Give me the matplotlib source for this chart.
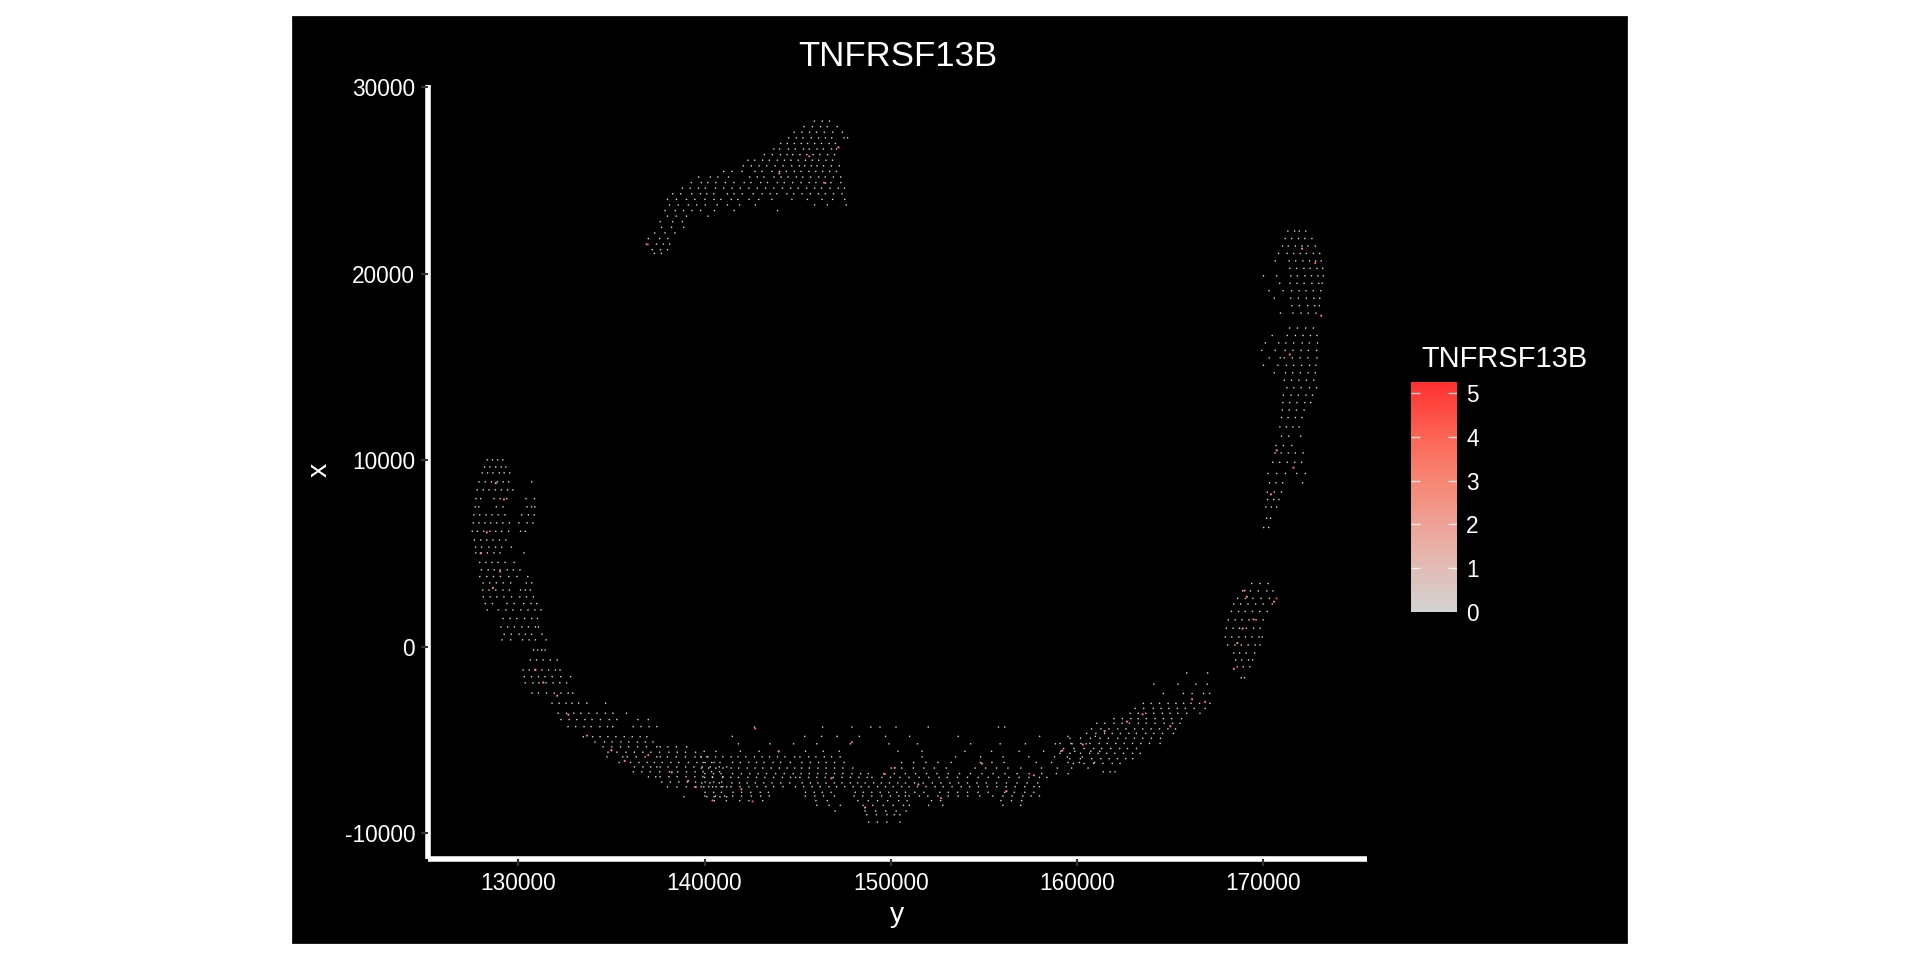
import numpy as np
import matplotlib.pyplot as plt
from matplotlib.colors import LinearSegmentedColormap
from matplotlib.patches import Rectangle

plt.rcParams['font.family'] = ['Liberation Sans', 'DejaVu Sans']
plt.rcParams['axes.unicode_minus'] = False

gene = 'TNFRSF13B'
y_ticks = [130000, 140000, 150000, 160000, 170000]
x_ticks = [-10000, 0, 10000, 20000, 30000]
bar_ticks = [0, 1, 2, 3, 4, 5]
bar_max = 5.25
bar_colors = ['#D3D3D3', '#E2BDB6', '#EFA297', '#F78674', '#FD6555', '#FF3030']
bar_stops = [0, 1 / 5.25, 2 / 5.25, 3 / 5.25, 4 / 5.25, 1]

# spots, by bands: (x, [y, y, ...])
top_rows = [
    (28200, [145900, 146320, 146710]),
    (27900, [145340, 145790, 146230, 146580, 147120]),
    (27600, [144810, 145230, 145640, 146010, 146430, 146880, 147400]),
    (27300, [144520, 144930, 145280, 145730, 146120, 146490, 146830, 147490, 147680]),
    (27000, [144090, 144440, 144820, 145190, 145530, 145910, 146280, 146690, 147030]),
    (26700, [143720, 144030, 144510, 144870, 145310, 145620, 146040, 146380, 146820, 147090]),
    (26400, [143210, 143640, 144080, 144430, 144730, 145120, 145490, 145830, 146190, 146610, 146980]),
    (26100, [142330, 142690, 143120, 143480, 143910, 144290, 144640, 145030, 145420, 145780, 146130, 146520, 146870]),
    (25800, [142080, 142510, 142930, 143340, 143790, 144220, 144680, 145090, 145380, 145730, 146040, 146390, 146810, 147230]),
    (25500, [141030, 141470, 142020, 142710, 143080, 143620, 144030, 144390, 144820, 145180, 145610, 145970, 146340, 146720, 147080]),
    (25200, [139680, 140310, 140720, 141290, 142420, 142830, 143190, 143730, 144110, 144480, 144930, 145270, 145690, 146130, 146480, 146920, 147310]),
    (24900, [139290, 139830, 140180, 140610, 141120, 141580, 142130, 142490, 143020, 143380, 143910, 144280, 144730, 145180, 145620, 145980, 146410, 146790, 147320]),
    (24600, [138810, 139230, 139680, 140040, 140590, 141030, 141480, 141920, 142380, 142830, 143280, 143720, 144180, 144620, 145030, 145480, 145910, 146280, 146730, 147180, 147510]),
    (24300, [138290, 138720, 139310, 139780, 140120, 140490, 141230, 141580, 142030, 142610, 143090, 143520, 143880, 144420, 144790, 145230, 145680, 146120, 146490, 146930, 147380]),
    (24000, [138010, 138490, 139030, 139480, 140020, 140510, 140880, 141430, 141790, 142390, 142910, 143620, 144690, 145520, 146310, 146880, 147530]),
    (23700, [138120, 138590, 139130, 139580, 140040, 140680, 141230, 141880, 142730, 145910, 146590, 147610]),
    (23400, [137880, 138430, 138870, 139320, 139790, 140530, 141590, 143920]),
    (23100, [138010, 138480, 139030, 140190]),
    (22800, [137620, 138290, 138810]),
    (22500, [137690, 138230, 138880]),
    (22200, [137320, 137880, 138410]),
    (21900, [136980, 137590, 138030]),
    (21600, [136880, 137420, 137790, 138130]),
    (21300, [137190, 137630, 138010]),
    (21100, [137310, 137680]),
]
right_rows = [
    (22300, [171320, 171680, 171930, 172280]),
    (21900, [171180, 171520, 171890, 172230, 172610]),
    (21500, [171030, 171340, 171720, 172080, 172390, 172790]),
    (21100, [170820, 171280, 171630, 171980, 172310, 172690, 173030]),
    (20700, [170640, 171390, 171740, 172130, 172480, 172810, 173110]),
    (20300, [171420, 171790, 172180, 172520, 172880, 173190]),
    (19900, [170010, 170720, 171480, 171830, 172240, 172590, 172930, 173220]),
    (19500, [170880, 171430, 171810, 172190, 172610, 172980, 173160]),
    (19100, [170310, 171060, 171520, 171920, 172290, 172680, 173090]),
    (18700, [170590, 171470, 171880, 172310, 172720, 173030]),
    (18300, [171530, 171940, 172380, 172760, 173010]),
    (17900, [170920, 171590, 172030, 172410, 172830]),
    (17100, [171410, 171830, 172280, 172690]),
    (16700, [170480, 171290, 171720, 172140, 172530, 172880]),
    (16300, [170110, 170830, 171210, 171630, 172090, 172470, 172910]),
    (15900, [169920, 170640, 171180, 171590, 172030, 172420, 172860]),
    (15500, [170320, 170910, 171120, 171560, 171980, 172390, 172880]),
    (15100, [170010, 170780, 171240, 171630, 172060, 172480, 172820]),
    (14700, [170590, 171190, 171580, 171990, 172410, 172790]),
    (14300, [171130, 171520, 171910, 172320, 172710]),
    (13900, [171270, 171640, 172030, 172480, 172860]),
    (13500, [171080, 171490, 171880, 172290, 172640]),
    (13100, [171050, 171420, 171810, 172230, 172540]),
    (12700, [171020, 171390, 171780, 172190]),
    (12300, [170980, 171330, 171720, 172080]),
    (11800, [170890, 171240, 171590, 171920]),
    (11300, [170980, 171360, 172010]),
    (10800, [170690, 171080, 171530]),
    (10400, [170630, 170960, 171340, 171720, 172140]),
    (9900, [170510, 170880, 171290, 171680, 172050]),
    (9300, [170250, 170720, 171190, 171790, 172260]),
    (8800, [170330, 170680, 171040, 172110]),
    (8300, [170210, 170590, 170980]),
    (7900, [170230, 170560, 170840]),
    (7500, [170140, 170430, 170720]),
    (6900, [170180, 170390]),
    (6400, [170020, 170290]),
]
knob_rows = [
    (3400, [169380, 169820, 170260]),
    (3000, [168890, 169310, 169730, 170190, 170520]),
    (2600, [168620, 169040, 169440, 169880, 170330]),
    (2300, [168410, 168790, 169180, 169590, 169990, 170480]),
    (1900, [168290, 168670, 169030, 169420, 169810, 170210]),
    (1450, [168120, 168490, 168860, 169230, 169610, 169990]),
    (1000, [168010, 168380, 168720, 169090, 169480, 169830]),
    (530, [167960, 168310, 168690, 169040, 169390, 169780, 169940]),
    (100, [168090, 168480, 168820, 169190, 169560, 169820]),
    (-330, [168410, 168730, 169080, 169540]),
    (-700, [168520, 168840, 169210, 169430]),
    (-1070, [168610, 168920, 169280]),
    (-1660, [168810, 168990]),
]
left_rows = [
    (10030, [128330, 128610, 128890, 129170]),
    (9650, [128190, 128480, 128790, 129080, 129330]),
    (9330, [128060, 128350, 128640, 128980, 129240, 129540]),
    (8850, [127890, 128230, 128560, 128870, 129190, 129480, 130720]),
    (8420, [127790, 128120, 128430, 128770, 129090, 129420, 129710]),
    (7950, [127730, 127980, 128690, 129030, 129380, 130410, 130870]),
    (7510, [127690, 127880, 128820, 129180, 130470, 130710, 130890]),
    (7080, [127610, 127930, 128270, 128590, 128920, 129280, 130180, 130540, 130860]),
    (6650, [127590, 127890, 128210, 128520, 128840, 129170, 129520, 130030, 130480, 130790]),
    (6200, [127530, 127810, 128140, 128480, 128790, 129110, 129480, 130120, 130380]),
    (5730, [127640, 127980, 128310, 128640, 128990, 129330]),
    (5350, [127710, 128030, 128420, 128780, 129110, 129630]),
    (5040, [127720, 128010, 128340, 128690, 129020, 130310]),
    (4530, [127930, 128260, 128590, 128910, 129290, 129780]),
    (4130, [128020, 128380, 128710, 129030, 129410, 129730, 130090]),
    (3770, [127930, 128310, 128670, 129040, 129490, 129930, 130510]),
    (3430, [128110, 128470, 128820, 129190, 129590, 130430, 130720]),
    (3050, [128090, 128430, 128790, 129180, 129520, 130120, 130380, 130640]),
    (2680, [128120, 128490, 128850, 129230, 129640, 130080, 130440, 130810]),
    (2320, [128230, 128610, 129390, 129780, 130290, 130680, 130990]),
    (1980, [128330, 128920, 129330, 129710, 130140, 130520, 130890, 131220]),
    (1520, [129180, 129560, 129920, 130340, 130720, 131030]),
    (1070, [129070, 129430, 129790, 130190, 130540, 130920, 131080]),
    (680, [129240, 129620, 130040, 130380, 130710, 131280]),
    (375, [129130, 129590, 130230, 130580, 130920, 131490]),
    (-170, [130820, 131040, 131260, 131440]),
    (-700, [130640, 130980, 131330, 131720, 132090]),
    (-1240, [130260, 130590, 130910, 131270, 131630, 131990, 132240]),
    (-1600, [130320, 130710, 131080, 131430, 131820, 132280, 132810]),
    (-1930, [130370, 130790, 131110, 131490, 131870, 132230, 132590]),
    (-2480, [130730, 131080, 131520, 131930, 132290, 132680, 132920]),
    (-3020, [131810, 132190, 132560, 132880, 133240, 133680, 134690]),
    (-3560, [132140, 132590, 132980, 133360, 133790, 134230, 134680, 135080, 135810]),
    (-3900, [132290, 132730, 133140, 133580, 133960, 134410, 134890, 135290, 136420, 136980]),
    (-4280, [132670, 133080, 133530, 133910, 134380, 134790, 135070, 136170, 136590, 137020, 137440]),
    (-4820, [133490, 133990, 134390, 134810, 135240, 135690, 136120, 136540, 136900]),
    (-5100, [134120, 134630, 135040, 135510, 135930, 136390, 136820, 137230]),
    (-5360, [134550, 135020, 135490, 135920, 136410, 136880, 137440, 137620, 138030, 138490, 139040]),
    (-5650, [134820, 135290, 135780, 136230, 136690, 137120, 137590, 138090, 138530, 138980, 139520]),
    (-5900, [134760, 135610, 135850, 136330, 136810, 137440, 137620, 138010, 138480, 138970, 139490, 139820, 140120]),
    (-6200, [135410, 136030, 136480, 136920, 137310, 137730, 138190, 138620, 139130, 139590, 140030, 140510]),
    (-6440, [136230, 136690, 137110, 137440, 137620, 138040, 138510, 138990, 139430, 139880, 140310, 140790, 141190]),
    (-6700, [136180, 136630, 137080, 137590, 138120, 138560, 139030, 139490, 139920, 140380, 140810]),
    (-6970, [136990, 137380, 137610, 138090, 138530, 139010, 139480, 139910, 140420, 140990]),
    (-7250, [137710, 138170, 138620, 139070, 139520, 140030, 140490, 140920]),
    (-7510, [138010, 138520, 139020, 139480, 139960, 140430, 140890, 141190]),
    (-8040, [138890, 140130, 140510, 140830, 141190]),
]
arc_rows = [
    (-4300, [142680, 146340, 147910, 148930, 149420, 150280, 152010, 155780, 156120]),
    (-4800, [141490, 145380, 146290, 147120, 148310, 149720, 151010, 153620, 157990, 159510, 160980]),
    (-5200, [141820, 143510, 144780, 146030, 147830, 149900, 151430, 154290, 155870, 157230, 158840, 159730, 160490]),
    (-5600, [139980, 140610, 141920, 142930, 143980, 145420, 146380, 147230, 150390, 151680, 153980, 155410, 156890, 158210, 159130, 159880, 160740, 161220]),
    (-5900, [139810, 140180, 140590, 140980, 141430, 141790, 142210, 142680, 143090, 143490, 143920, 144320, 144830, 145120, 145590, 145980, 146430, 146820, 147280, 151680, 153480, 154820, 156030, 157410, 158790, 159480, 160280]),
    (-6200, [139920, 140390, 140830, 141510, 141920, 142380, 142790, 143190, 143680, 144090, 144610, 145230, 145680, 146120, 146530, 146980, 147490, 150580, 151230, 151890, 152530, 153240, 154810, 155430, 156090, 157810, 158630, 159520, 160130, 160940]),
    (-6500, [139830, 140220, 140610, 140990, 141420, 141830, 142290, 142710, 143130, 143580, 144020, 144430, 144840, 145210, 145630, 146090, 146520, 146980, 147430, 147960, 150020, 150590, 151210, 151780, 152340, 152980, 154530, 155090, 155680, 156290, 156980, 158090, 158940, 159710, 160590]),
    (-6800, [140020, 140480, 140890, 141510, 141980, 142430, 142880, 143330, 143820, 144280, 144760, 145180, 145620, 146080, 146530, 146980, 147420, 147920, 148380, 148790, 149630, 150190, 150780, 151330, 151920, 152480, 153080, 153690, 154280, 154890, 155490, 156130, 156780, 157430, 158110, 158890, 159520]),
    (-7000, [140010, 140430, 140970, 141410, 141820, 142330, 142790, 143240, 143710, 144180, 144620, 144890, 145120, 145590, 146030, 146480, 146910, 147380, 147830, 148290, 148730, 148990, 149520, 149980, 150490, 150980, 151520, 152040, 152590, 153030, 153580, 154120, 154690, 155230, 155790, 156340, 156890, 157420, 157980, 158380]),
    (-7300, [139850, 140290, 140790, 141470, 141880, 142290, 142730, 143180, 143620, 144090, 144580, 145240, 145680, 146090, 146520, 146970, 147380, 147830, 148220, 148630, 149080, 149490, 149930, 150380, 150790, 151280, 151740, 152230, 152690, 153180, 153640, 154120, 154620, 155130, 155680, 156210, 156780, 157320, 157890]),
    (-7500, [139820, 140230, 140620, 140980, 141420, 141910, 142380, 142820, 143290, 143710, 144210, 144880, 145320, 145780, 146210, 146680, 147090, 147530, 147980, 148410, 148820, 149290, 149720, 150130, 150590, 150980, 151430, 151890, 152380, 152810, 153290, 153780, 154230, 154710, 155180, 155690, 156190, 156680, 157190, 157690, 157980]),
    (-7800, [140030, 140490, 140910, 141530, 141990, 142480, 142990, 143430, 145420, 145890, 146320, 146790, 148090, 148520, 148980, 149430, 149890, 150320, 150790, 151290, 151780, 152630, 153090, 153590, 154120, 154680, 155230, 156120, 156630, 157190, 157680]),
    (-8000, [140020, 140590, 141080, 141510, 141980, 142510, 143020, 143480, 145410, 145920, 146390, 146980, 148030, 148490, 148980, 149510, 149980, 150430, 150780, 150980, 151530, 151990, 152530, 153080, 153610, 154130, 154780, 155480, 156020, 156510, 157090, 157530, 157980]),
    (-8250, [140520, 141170, 141890, 142380, 143120, 145980, 146590, 148230, 148790, 149290, 149830, 150420, 150880, 152190, 152680, 155910, 156480, 157030]),
    (-8500, [146030, 146690, 147290, 148510, 149030, 149590, 150130, 150680, 150990, 152030, 152790, 156020, 156980]),
    (-8800, [147010, 148620, 149180, 149730, 150290, 150820]),
    (-9000, [148710, 149230, 149790, 150190, 150490]),
    (-9400, [148810, 149280, 149790, 150490]),
]
arc_end_rows = [
    (-1400, [165890, 167010]),
    (-2000, [164120, 165420, 166380, 166990]),
    (-2500, [164630, 165710, 166180, 166790, 167120]),
    (-3030, [163560, 163980, 164430, 164890, 165310, 165720, 166120, 166580, 167140]),
    (-3300, [163120, 163580, 164090, 164510, 164930, 165390, 165810, 166290, 166880]),
    (-3560, [162850, 163290, 163690, 164120, 164580, 164990, 165410, 165890, 166600]),
    (-3850, [161980, 162430, 162890, 163280, 163720, 164190, 164630, 165080, 165610]),
    (-4100, [161060, 161490, 161980, 162420, 162810, 163290, 163710, 164190, 164680, 165130, 165530]),
    (-4400, [160780, 161280, 161720, 162190, 162630, 163090, 163530, 163980, 164430, 164880, 165290]),
    (-4640, [160520, 161010, 161480, 161890, 162330, 162780, 163190, 163690, 164130, 164590, 165180]),
    (-4900, [159620, 160190, 160720, 161230, 161680, 162190, 162630, 163080, 163530, 163990, 164480]),
    (-5180, [159090, 159680, 160210, 160690, 161190, 161620, 162080, 162530, 162980, 163430, 163890, 164460]),
    (-5450, [159280, 159830, 160380, 160890, 161320, 161810, 162290, 162710, 163190]),
    (-5710, [159090, 159620, 160190, 160680, 161130, 161590, 162030, 162490, 162980, 163390]),
    (-6000, [159610, 160180, 160790, 161280, 161720, 162180, 162620, 162990]),
    (-6250, [159800, 160380, 160890, 161390, 161890, 162310]),
    (-6700, [161410, 161780, 162040]),
]
# spots with expression above zero: y, x, value
red_y = [170710, 170580, 142720, 140430, 136950, 145620, 144010, 146480, 147190, 128790, 128310, 129230, 127980, 128640, 129020,
         130920, 131340, 132090, 132690, 133680, 135000, 135710, 136980, 138240, 139120, 139530, 141980, 142580, 143980,
         146820, 147910, 148620, 149680, 150210, 151480, 152690, 154890, 156210, 157680, 159210, 160310, 161480, 162680,
         163520, 165010, 166180, 166880, 172790, 173110, 172080, 171420, 171620, 170720, 170410, 169480, 168890, 169120,
         168610, 168420, 168990]
red_x = [2600, 2420, -4380, -8240, 21580, 26310, 25400, 24880, 26790, 8780, 6140, 7910, 5020, 3160, 4050,
         -1230, -1910, -2620, -3640, -4760, -5550, -6120, -5810, -6730, -7190, -7520, -7640, -8290, -5610,
         -7050, -5110, -8620, -6820, -6490, -7380, -8110, -6260, -7740, -6890, -5560, -5240, -4520, -4010,
         -3620, -4260, -2810, -2950, 20590, 17760, 21360, 15680, 9610, 10540, 8180, 1470, 980, 2690,
         210, -1180, 3020]
red_v = [5.0, 3.6, 4.5, 4.2, 4.8, 4.4, 3.1, 3.8, 3.4, 2.7, 3.3, 3.7, 2.9, 3.2, 3.5,
         2.8, 3.1, 3.6, 3.0, 3.9, 2.7, 3.4, 4.0, 2.9, 3.2, 3.5, 3.8, 4.7, 3.0,
         3.3, 4.1, 2.8, 3.7, 3.1, 3.4, 3.9, 2.9, 3.2, 3.6, 3.0, 3.5, 2.8, 3.3,
         3.7, 2.9, 3.4, 3.8, 4.3, 3.5, 3.0, 3.6, 4.1, 2.9, 3.2, 3.7, 3.1, 3.4,
         2.8, 3.3, 3.0]


def expand(rows):
    ys, xs = [], []
    for x_val, y_vals in rows:
        ys += y_vals
        xs += [x_val] * len(y_vals)
    return ys, xs


spot_y, spot_x = [], []
for rows in [top_rows, right_rows, knob_rows, left_rows, arc_rows, arc_end_rows]:
    ys, xs = expand(rows)
    spot_y += ys
    spot_x += xs
spot_v = [0] * len(spot_y)

W, H = 1920, 960
fig = plt.figure(figsize=(W / 100, H / 100), dpi=100, facecolor='white')
# black plot background with its thin dark border, under the axes
fig.patches.append(Rectangle((292 / W, 1 - 943 / H), (1627 - 292) / W, (943 - 16) / H, transform=fig.transFigure,
                             facecolor='black', edgecolor='#222222', linewidth=0.72, zorder=-1))

ax = fig.add_axes([428 / W, 1 - 859 / H, (1367 - 428) / W, (859 - 85) / H], facecolor='none')
cmap = LinearSegmentedColormap.from_list('expr', list(zip(bar_stops, bar_colors)))
ax.scatter(spot_y, spot_x, c=spot_v, cmap=cmap, vmin=0, vmax=bar_max, s=1.3, linewidths=0)
ax.scatter(red_y, red_x, c=red_v, cmap=cmap, vmin=0, vmax=bar_max, s=2.6, linewidths=0)
ax.set_xlim(125152, 175568)
ax.set_ylim(-11378, 30134)
ax.set_xticks(y_ticks)
ax.set_yticks(x_ticks)
ax.tick_params(colors='#333333', width=1.5, length=5.2, labelcolor='white', labelsize=16.3, pad=4)
for side in ['top', 'right']:
    ax.spines[side].set_visible(False)
for side in ['left', 'bottom']:
    ax.spines[side].set_color('white')
    ax.spines[side].set_linewidth(4)
    ax.spines[side].set_capstyle('butt')
    ax.spines[side].set_zorder(1)

fig.text(897.5 / W, 1 - 56 / H, gene, color='white', fontsize=25, ha='center', va='center')
fig.text(897.5 / W, 1 - 915 / H, 'y', color='white', fontsize=20.5, ha='center', va='center')
fig.text(320 / W, 1 - 470 / H, 'x', color='white', fontsize=20.5, ha='center', va='center', rotation=90)

# colour bar
cax = fig.add_axes([1411 / W, 1 - 612.3 / H, 46 / W, 230.6 / H])
cax.imshow(np.linspace(0, bar_max, 256).reshape(-1, 1), aspect='auto', origin='lower', cmap=cmap,
           vmin=0, vmax=bar_max, extent=[0, 1, 0, bar_max])
cax.hlines(bar_ticks, 0, 0.2, color='white', linewidth=1, alpha=0.8)
cax.hlines(bar_ticks, 0.8, 1, color='white', linewidth=1, alpha=0.8)
cax.set_xticks([])
cax.yaxis.tick_right()
cax.set_yticks(bar_ticks)
cax.tick_params(axis='y', length=0, labelcolor='white', labelsize=16.3, pad=6.6)
for label in cax.get_yticklabels():
    label.set_verticalalignment('center_baseline')
for s in cax.spines.values():
    s.set_visible(False)
fig.text(1421.5 / W, 1 - 359 / H, gene, color='white', fontsize=20.9, ha='left', va='center')

fig.savefig('out.png', dpi=100, facecolor='white')
